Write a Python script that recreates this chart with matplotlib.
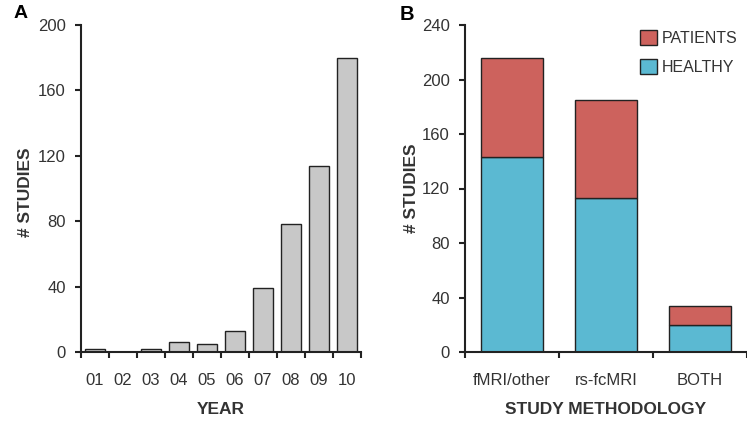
import matplotlib.pyplot as plt
import numpy as np
from matplotlib.patches import Patch

plt.rcParams['font.family'] = ['Liberation Sans', 'DejaVu Sans']

# panel A data
years = ['01', '02', '03', '04', '05', '06', '07', '08', '09', '10']
studies_per_year = [2, 0, 2, 6, 5, 13, 39, 78, 114, 180]

# panel B data
methods = ['fMRI/other', 'rs-fcMRI', 'BOTH']
healthy = [143, 113, 20]
patients = [73, 72, 14]

gray = '#c8c8c8'
red = '#cd625d'
blue = '#5bb9d2'
edge = '#222222'
txt = '#333333'

fig = plt.figure(figsize=(7.47, 4.24), dpi=100)
axA = fig.add_axes([81 / 747, 1 - 352 / 424, 280 / 747, 327 / 424])
axB = fig.add_axes([465 / 747, 1 - 352 / 424, 282 / 747, 327 / 424])


def style_axis(ax, n):
    for s in ['top', 'right']:
        ax.spines[s].set_visible(False)
    for s in ['left', 'bottom']:
        ax.spines[s].set_linewidth(1.5)
        ax.spines[s].set_color(edge)
    ax.set_xlim(-0.5, n - 0.5)
    ax.set_xticks(np.arange(n))
    ax.set_xticks(np.arange(n + 1) - 0.5, minor=True)
    ax.tick_params(axis='x', which='major', length=0, pad=15, labelsize=12, labelcolor=txt)
    ax.tick_params(axis='x', which='minor', length=4, width=1.5, color=edge, direction='out')
    ax.tick_params(axis='y', length=4, width=1.5, color=edge, pad=7, labelsize=12, labelcolor=txt)


# A: studies per year
x = np.arange(len(years))
axA.bar(x, studies_per_year, width=0.7, color=gray, edgecolor=edge, linewidth=1)
style_axis(axA, len(years))
axA.set_xticklabels(years)
axA.set_ylim(0, 200)
axA.set_yticks(range(0, 201, 40))
axA.set_ylabel('# STUDIES', fontsize=12.5, fontweight='bold', color=txt)
axA.set_xlabel('YEAR', fontsize=12.5, fontweight='bold', color=txt)
axA.yaxis.set_label_coords(-0.172, 0.49)
axA.xaxis.set_label_coords(0.5, -0.153)
fig.text(21 / 747, 1 - 14 / 424, 'A', fontsize=14, fontweight='bold', va='center', ha='center')

# B: stacked by methodology
xb = np.arange(len(methods))
axB.bar(xb, healthy, width=0.66, color=blue, edgecolor=edge, linewidth=1)
axB.bar(xb, patients, width=0.66, bottom=healthy, color=red, edgecolor=edge, linewidth=1)
style_axis(axB, len(methods))
axB.set_xticklabels(methods)
axB.set_ylim(0, 240)
axB.set_yticks(range(0, 241, 40))
axB.set_ylabel('# STUDIES', fontsize=12.5, fontweight='bold', color=txt)
axB.set_xlabel('STUDY METHODOLOGY', fontsize=12.5, fontweight='bold', color=txt)
axB.yaxis.set_label_coords(-0.163, 0.5)
axB.xaxis.set_label_coords(0.5, -0.153)
fig.text(407 / 747, 1 - 14.5 / 424, 'B', fontsize=14.5, fontweight='bold', va='center', ha='center')

handles = [Patch(facecolor=red, edgecolor=edge, linewidth=1, label='PATIENTS'),
           Patch(facecolor=blue, edgecolor=edge, linewidth=1, label='HEALTHY')]
fig.legend(handles=handles, loc='upper left', bbox_to_anchor=(640 / 747, 1 - 30 / 424),
           frameon=False, fontsize=11.5, handlelength=1.05, handleheight=1.1,
           handletextpad=0.3, labelspacing=0.8, borderpad=0, borderaxespad=0,
           labelcolor=txt)

fig.savefig('out.png', dpi=100)
